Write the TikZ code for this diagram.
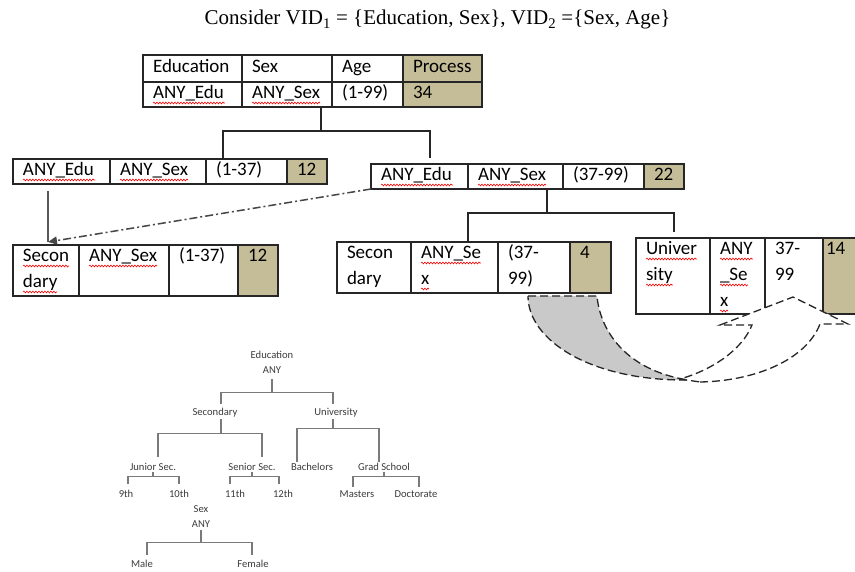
\documentclass[tikz,border=0pt]{standalone}
\usepackage{fontspec}
\setmainfont{Liberation Serif}
\newfontfamily\calfont{Carlito}
\usepackage{xcolor}
\usepackage{tikz}
\usetikzlibrary{arrows.meta,positioning,decorations.pathmorphing}
\definecolor{vidtan}{HTML}{C4BD97}
\definecolor{vidink}{HTML}{262626}
\definecolor{vidgrey}{HTML}{595959}
\definecolor{vidshade}{HTML}{C9C9C9}

\begin{document}
\begin{tikzpicture}[x=1pt, y=-1pt,
  cell/.style={draw=vidink, line width=1.1pt, outer sep=0pt, inner xsep=10pt, inner ysep=4pt,
    text height=13pt, text depth=#1, align=left, font=\calfont\fontsize{19}{26}\selectfont},
  cell/.default=4pt,
  hdr/.style={cell, minimum height=27pt},
  proc/.style={fill=vidtan},
  link/.style={draw=vidink, line width=1.1pt},
  dashdot/.style={draw=vidgrey!80!black, line width=1.5pt, dash pattern=on 8pt off 3pt on 2pt off 3pt},
  curl/.style={draw=vidink, line width=1.3pt, dash pattern=on 8pt off 4pt},
  spell/.style={draw=red, line width=0.6pt, decorate, decoration={snake, amplitude=0.9pt, segment length=3pt}},
  tnode/.style={font=\calfont\fontsize{10.6}{15}\selectfont, text=vidink!90, inner sep=1pt, align=center},
  tline/.style={draw=vidgrey!80, line width=1.1pt},
  >=Latex
]
\useasboundingbox (0,0) rectangle (855,572);
\fill[white] (0,0) rectangle (855,572);

\node[font=\fontsize{21}{24}\selectfont, anchor=base] (title) at (437.5,25) {Consider VID\textsubscript{1} = \{Education, Sex\}, VID\textsubscript{2} =\{Sex, Age\}};

% top table
\node[hdr, text width=79pt, anchor=north west] (ta1) at (143,55) {Education};
\node[hdr, text width=70pt, right=0pt of ta1] (ta2) {Sex};
\node[hdr, text width=51pt, right=0pt of ta2] (ta3) {Age};
\node[hdr, proc, text width=59pt, right=0pt of ta3] (ta4) {Process};
\node[cell, text width=79pt, below=0pt of ta1] (tb1) {ANY\_Edu};
\node[cell, text width=70pt, right=0pt of tb1] (tb2) {ANY\_Sex};
\node[cell, text width=51pt, right=0pt of tb2] (tb3) {(1-99)};
\node[cell, proc, text width=59pt, right=0pt of tb3] (tb4) {34};

% second level
\node[cell, text width=77pt, anchor=north west] (la1) at (13,159) {ANY\_Edu};
\node[cell, text width=76pt, right=0pt of la1] (la2) {ANY\_Sex};
\node[cell, text width=61pt, right=0pt of la2] (la3) {(1-37)};
\node[cell, proc, text width=20pt, right=0pt of la3] (la4) {12};

\node[cell, text width=77pt, anchor=north west] (ra1) at (371,164) {ANY\_Edu};
\node[cell, text width=75pt, right=0pt of ra1] (ra2) {ANY\_Sex};
\node[cell, text width=61pt, right=0pt of ra2] (ra3) {(37-99)};
\node[cell, proc, text width=20pt, right=0pt of ra3] (ra4) {22};

% third level
\node[cell=30pt, text width=46pt, anchor=north west] (lb1) at (13,245) {Secon\\dary};
\node[cell=30pt, text width=70pt, right=0pt of lb1] (lb2) {ANY\_Sex};
\node[cell=30pt, text width=49pt, right=0pt of lb2] (lb3) {(1-37)};
\node[cell=30pt, proc, text width=20pt, right=0pt of lb3] (lb4) {12};

\node[cell=30pt, text width=54pt, anchor=north west] (mb1) at (337,242) {Secon\\dary};
\node[cell=30pt, text width=67pt, right=0pt of mb1] (mb2) {ANY\_Se\\x};
\node[cell=30pt, text width=52pt, right=0pt of mb2] (mb3) {(37-\\99)};
\node[cell=30pt, proc, text width=21pt, right=0pt of mb3] (mb4) {4};

\node[cell=55pt, text width=54pt, anchor=north west] (ub1) at (636,238) {Univer\\sity};
\node[cell=55pt, text width=35pt, right=0pt of ub1] (ub2) {ANY\\\_Se\\x};
\node[cell=55pt, text width=38pt, right=0pt of ub2] (ub3) {37-\\99};
\node[cell=55pt, proc, inner xsep=3pt, text width=34pt, right=0pt of ub3] (ub4) {14};

% spell-check marks
\foreach \nd/\ln/\wd in {tb1/0/72, tb2/0/68, la1/0/72, la2/0/68, ra1/0/72, ra2/0/68,
    lb1/0/46, lb1/1/34, lb2/0/68, mb2/0/60, mb2/1/8, ub1/0/51, ub1/1/27, ub2/0/33, ub2/1/28, ub2/2/8}
  \draw[spell] ([xshift=10pt, yshift=-4pt-26pt*\ln]\nd.base west) -- ++(\wd,0);

% splits
\coordinate (j1) at (321,131);
\coordinate (j1l) at (223,131);
\coordinate (j1r) at (430,131);
\draw[link] (j1 |- tb2.south) -- (j1);
\draw[link] (j1l |- la3.north) -- (j1l) -- (j1r) -- ++(0,27);

\coordinate (j2) at (547,213);
\coordinate (j2l) at (468,213);
\coordinate (j2r) at (674,213);
\draw[link] (j2 |- ra2.south) -- (j2);
\draw[link] (j2l |- mb2.north) -- (j2l) -- (j2r) -- ++(0,19);

% specialisation arrows
\coordinate (ahead) at (48,242);
\draw[link, draw=vidgrey, line width=1.4pt] (ahead |- la1.south) ++(0,7) -- (ahead);
\draw[dashdot, -{Triangle[length=9pt, width=8pt]}] (ra1.south west) -- (ahead);

% curved arrow
\draw[curl, fill=white] (700,382) .. controls (755,381) and (806,360) .. (820,324) -- (848,324) -- (793,297)
  -- (720,325) -- (752,325) .. controls (742,350) and (712,370) .. (680,379) -- cycle;
\draw[curl, fill=vidshade] (528,296) -- (597,296) .. controls (600,330) and (625,370) .. (688,380)
  .. controls (590,381) and (528,340) .. (528,296) -- cycle;

% hierarchies
\node[tnode] (edu) at (272,362) {Education\\ANY};
\node[tnode] (sec) at (215,413) {Secondary};
\node[tnode] (uni) at (336,413) {University};
\node[tnode] (jun) at (153,467) {Junior Sec.};
\node[tnode] (sen) at (252,467) {Senior Sec.};
\node[tnode] (bach) at (312,467) {Bachelors};
\node[tnode] (grad) at (384,467) {Grad School};
\node[tnode] (g9) at (126,494) {9th};
\node[tnode] (g10) at (179,494) {10th};
\node[tnode] (g11) at (235,494) {11th};
\node[tnode] (g12) at (283,494) {12th};
\node[tnode] (mas) at (357,494) {Masters};
\node[tnode] (doc) at (416,494) {Doctorate};
\node[tnode] (sex) at (201,517) {Sex\\ANY};
\node[tnode] (male) at (142,564) {Male};
\node[tnode] (fem) at (253,564) {Female};

\draw[tline] ([yshift=-5pt]edu.south) -- ++(0,13) coordinate (e0) -| ([xshift=6pt, yshift=3pt]sec.north);
\draw[tline] (e0) -| ([xshift=-3pt, yshift=3pt]uni.north);
\draw[tline] ([xshift=6pt]sec.south) -- ++(0,15) coordinate (e1) -| ([xshift=5pt, yshift=5pt]jun.north);
\draw[tline] (e1) -| ([xshift=10pt, yshift=5pt]sen.north);
\draw[tline] ([xshift=-3pt]uni.south) -- ++(0,10) coordinate (e2) -| ([xshift=-15pt]bach.north);
\draw[tline] (e2) -| ([xshift=-5pt]grad.north);
\draw[tline] (jun.south) -- ++(0,5) coordinate (e3) -| ([xshift=2pt, yshift=5pt]g9.north);
\draw[tline] (e3) -| ([yshift=5pt]g10.north);
\draw[tline] (sen.south) -- ++(0,5) coordinate (e4) -| ([xshift=-5pt, yshift=5pt]g11.north);
\draw[tline] (e4) -| ([xshift=-4pt, yshift=5pt]g12.north);
\draw[tline] (grad.south) -- ++(0,5) coordinate (e5) -| ([xshift=-4pt, yshift=2pt]mas.north);
\draw[tline] (e5) -| ([xshift=3pt, yshift=2pt]doc.north);
\draw[tline] ([yshift=-1pt]sex.south) -- ++(0,12) coordinate (e6) -| ([xshift=5pt, yshift=4pt]male.north);
\draw[tline] (e6) -| ([xshift=-1pt, yshift=4pt]fem.north);
\end{tikzpicture}
\end{document}
